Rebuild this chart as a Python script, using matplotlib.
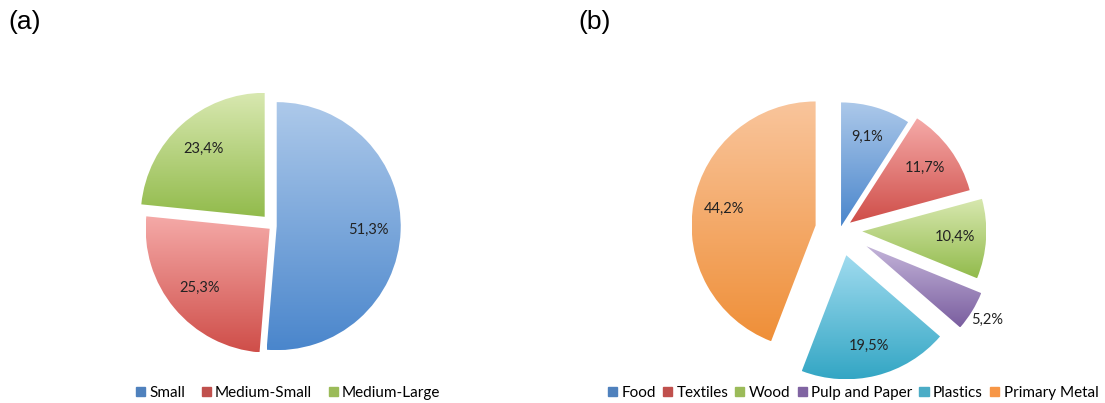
import numpy as np
import matplotlib.pyplot as plt
from matplotlib.patches import Patch
from matplotlib.colors import LinearSegmentedColormap

plt.rcParams['font.family'] = ['Lato', 'DejaVu Sans']

# (a) firm size
size_labels = ['Small', 'Medium-Small', 'Medium-Large']
size_share = [51.3, 25.3, 23.4]
size_explode = [0.03, 0.035, 0.1]

# (b) sectors
sector_labels = ['Food', 'Textiles', 'Wood', 'Pulp and Paper', 'Plastics', 'Primary Metal']
sector_share = [9.1, 11.7, 10.4, 5.2, 19.5, 44.2]
sector_explode = [0.03, 0.1, 0.18, 0.25, 0.21, 0.2]

# (top, bottom, legend) colours for the excel-like gradient
blue = ('#adc9ea', '#4a86cc', '#4f81bd')
red = ('#f5aaa8', '#cf4e49', '#c0504d')
green = ('#d8e8b0', '#92bb4c', '#9bbb59')
purple = ('#c4b5da', '#7a5e9f', '#8064a2')
aqua = ('#a0dbef', '#33a6c4', '#4bacc6')
orange = ('#f9c59c', '#ef8f38', '#f79646')

size_colors = [blue, red, green]
sector_colors = [blue, red, green, purple, aqua, orange]


def fmt(p):
    return ('%.1f%%' % p).replace('.', ',')


def gradient_fill(ax, wedge, top, bottom):
    wedge.set_facecolor('none')
    wedge.set_linewidth(0)
    bb = wedge.get_path().get_extents()
    cmap = LinearSegmentedColormap.from_list('g', [bottom, top])
    grad = np.linspace(0, 1, 256).reshape(-1, 1)
    im = ax.imshow(grad, cmap=cmap, origin='lower', aspect='auto',
                   extent=[bb.x0, bb.x1, bb.y0, bb.y1], zorder=2)
    im.set_clip_path(wedge)


fig = plt.figure(figsize=(11.05, 4.03), dpi=100)
ax = fig.add_axes([0, 0, 1, 1])

r = 124
# explode is in data units in matplotlib, so scale by radius
wa, _, ta = ax.pie(size_share, explode=[e * r for e in size_explode], startangle=90,
                   counterclock=False, center=(273, 403 - 226), radius=r, autopct=fmt,
                   pctdistance=0.74, textprops={'fontsize': 10.5, 'color': '#222222'})
for w, c in zip(wa, size_colors):
    gradient_fill(ax, w, c[0], c[1])

wb, _, tb = ax.pie(sector_share, explode=[e * r for e in sector_explode], startangle=90,
                   counterclock=False, center=(840, 403 - 230), radius=r, autopct=fmt,
                   pctdistance=0.75, textprops={'fontsize': 10.5, 'color': '#222222'})
for w, c in zip(wb, sector_colors):
    gradient_fill(ax, w, c[0], c[1])

# the small slice gets its label outside
w = wb[3]
ang = np.deg2rad((w.theta1 + w.theta2) / 2)
cx, cy = w.center
tb[3].set_position((cx + 1.14 * r * np.cos(ang), cy + 1.14 * r * np.sin(ang)))

for t in list(ta) + list(tb):
    t.set_zorder(4)

ax.set_xlim(0, 1105)
ax.set_ylim(0, 403)
ax.set_aspect('equal')
ax.axis('off')

fig.text(8, 403 - 22, '(a)', fontsize=19, family='Liberation Sans', va='center', transform=None)
fig.text(578, 403 - 22, '(b)', fontsize=19, family='Liberation Sans', va='center', transform=None)

leg_a = ax.legend([Patch(color=c[2]) for c in size_colors], size_labels,
                  loc='center', bbox_to_anchor=(288 / 1105, 10 / 403), ncol=3, frameon=False,
                  fontsize=11, handlelength=0.6, handleheight=0.6, handletextpad=0.25,
                  columnspacing=1.1)
ax.add_artist(leg_a)
ax.legend([Patch(color=c[2]) for c in sector_colors], sector_labels,
          loc='center', bbox_to_anchor=(853 / 1105, 10 / 403), ncol=6, frameon=False,
          fontsize=11, handlelength=0.6, handleheight=0.6, handletextpad=0.3,
          columnspacing=0.45)

fig.savefig('out.png', dpi=100)
